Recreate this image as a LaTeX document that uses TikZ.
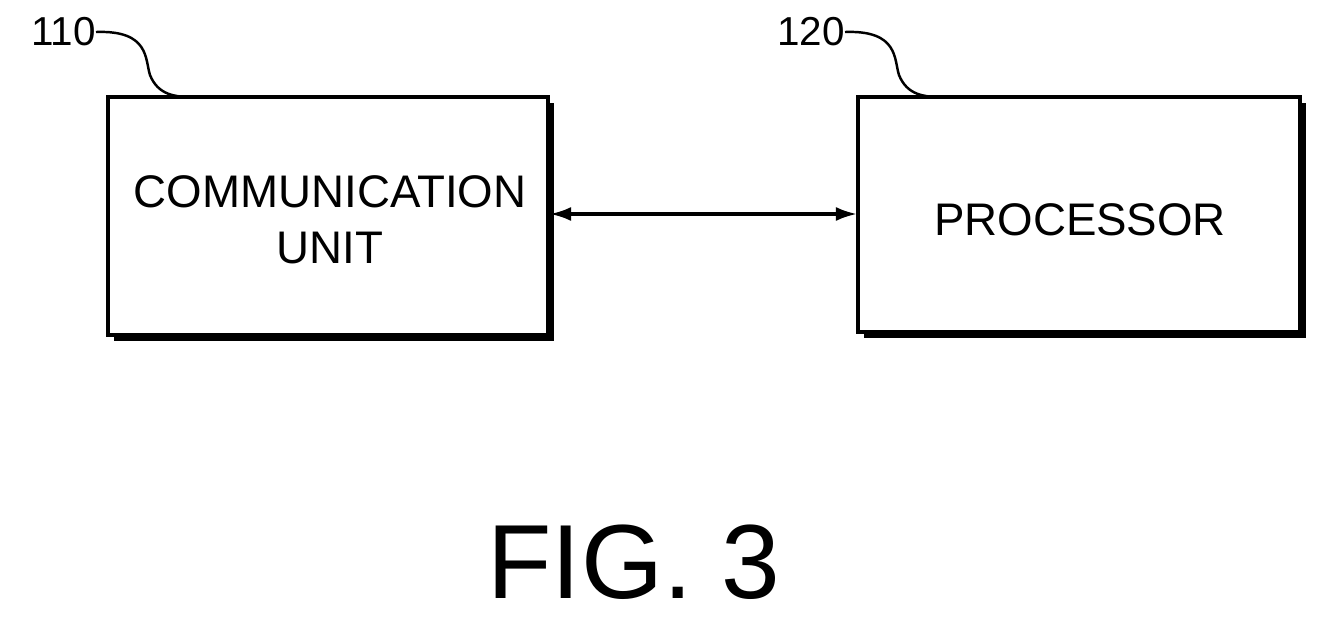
\documentclass[tikz,border=0pt]{standalone}
\usepackage{fontspec}
\setmainfont{Liberation Sans}
\usetikzlibrary{arrows.meta}
\begin{document}
\begin{tikzpicture}[x=0.02cm,y=-0.02cm,
 box/.style={draw,line width=2.2pt,fill=white},
 lbl/.style={font=\fontsize{23}{26}\selectfont,inner sep=0pt},
 txt/.style={font=\fontsize{26}{32}\selectfont,align=center}]
\useasboundingbox (0,0) rectangle (1330,622);
\fill (114,103) rectangle (554,341);
\draw[box] (108,97) rectangle (548,335);
\fill (864,103) rectangle (1306,338);
\draw[box] (858,97) rectangle (1300,332);
\node[txt] (a) at (330,220) {COMMUNICATION\\UNIT};
\node[txt] (b) at (1080,220) {PROCESSOR};
\coordinate (ae) at (550,214);
\coordinate (be) at (857,214);
\draw[line width=1.8pt,{Latex[length=12pt,width=8pt]}-{Latex[length=12pt,width=8pt]}] (ae) -- (be);
\node[lbl,anchor=east] (l1) at (96,32) {110};
\node[lbl,anchor=east] (l2) at (845,32) {120};
\draw[line width=1.4pt] (l1.east) .. controls (150,30) and (145,60) .. (150,75) .. controls (158,95) and (175,97) .. (192,97);
\draw[line width=1.4pt] (l2.east) .. controls (899,30) and (894,60) .. (899,75) .. controls (907,95) and (924,97) .. (941,97);
\node[font=\fontsize{60}{64}\selectfont] (f) at (634,562) {FIG. 3};
\end{tikzpicture}
\end{document}
